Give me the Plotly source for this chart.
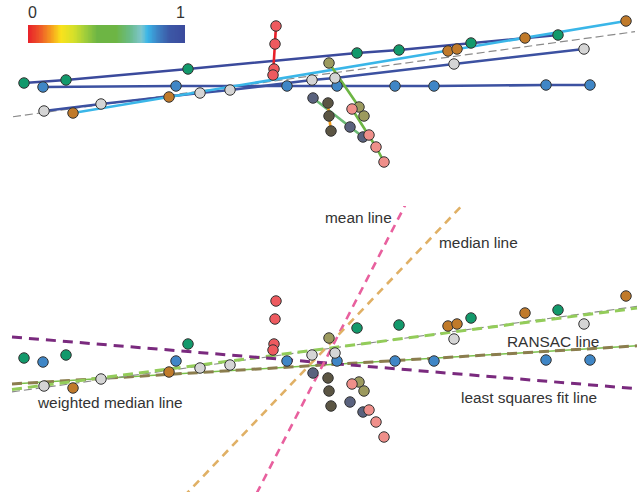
import numpy as np
import plotly.graph_objects as go
from plotly.colors import sample_colorscale

# ---------------- data (panel units) ----------------
green_x = [24, 66, 188, 357, 399, 471, 558]
green_y = [117, 120, 131, 147, 150, 157, 165]
blue_x = [43, 176, 287, 337, 395, 434, 546, 590]
blue_y = [113, 114, 114, 114, 114, 114, 115, 115]
gray_x = [44, 101, 200, 230, 312, 335, 454, 584]
gray_y = [89, 96, 107, 110, 120, 122, 136, 151]
orange_x = [73, 169, 448, 457, 525, 626]
orange_y = [87, 103, 149, 151, 162, 179]
red_x = [276, 275, 274, 273]
red_y = [174, 156, 131, 125]
slate_x = [313, 350, 363]
slate_y = [102, 73, 63]
dark_x = [328, 329, 331]
dark_y = [97, 84, 69]
olive_x = [329, 359, 364]
olive_y = [137, 93, 84]
salmon_x = [352, 369, 376, 384]
salmon_y = [91, 65, 53, 38]

# consistency weight of each group (0..1) -> colour of its connecting line
group_weights = {"green": 1.0, "blue": 0.95, "gray": 0.95, "orange": 0.76,
                 "red": 0.0, "slate": 0.62, "dark": 0.15, "olive": 0.5, "salmon": 0.5}

# fitted lines: y = slope * x + intercept
fit_names = ["true line", "weighted median line", "RANSAC line",
             "least squares fit line", "mean line", "median line"]
fit_slopes = [0.1367, 0.1302, 0.061, -0.0828, 1.94, 1.046]
fit_intercepts = [81.5, 84.0, 90.3, 139.0, -516.2, -213.8]

colorbar_labels = ["0", "1"]

# ---------------- styles ----------------
W, H = 641, 492
FONT = "Liberation Sans, Arial, sans-serif"
TXT = "#333333"

cscale = [
    [0.0, 'rgb(232,32,42)'], [0.08, 'rgb(238,90,40)'], [0.15, 'rgb(246,160,30)'],
    [0.21, 'rgb(249,226,28)'], [0.29, 'rgb(214,224,42)'], [0.37, 'rgb(156,204,60)'],
    [0.44, 'rgb(109,181,68)'], [0.56, 'rgb(109,181,68)'], [0.65, 'rgb(105,187,138)'],
    [0.72, 'rgb(127,198,204)'], [0.76, 'rgb(58,182,232)'], [0.83, 'rgb(61,127,194)'],
    [0.9, 'rgb(60,88,166)'], [1.0, 'rgb(59,74,156)']
]

marker_colors = {"green": "#12996b", "blue": "#3f86c6", "gray": "#d5d5d5",
                 "orange": "#c07a2a", "red": "#ee5a5f", "slate": "#5a627e",
                 "dark": "#5b5543", "olive": "#9c9a5e", "salmon": "#ef8f8a"}

groups = {
    "green": (green_x, green_y), "blue": (blue_x, blue_y), "gray": (gray_x, gray_y),
    "orange": (orange_x, orange_y), "red": (red_x, red_y), "slate": (slate_x, slate_y),
    "dark": (dark_x, dark_y), "olive": (olive_x, olive_y), "salmon": (salmon_x, salmon_y),
}

MSIZE = 10.5

fig = go.Figure()

# ---------------- top panel ----------------
x_seg = np.array([13, 635])
fig.add_trace(go.Scatter(x=x_seg, y=fit_slopes[0] * x_seg + fit_intercepts[0],
                         mode="lines", line=dict(color="#8a8a8a", width=1.2, dash="8px,4px"),
                         xaxis="x", yaxis="y", hoverinfo="skip"))

for name, (xs, ys) in groups.items():
    col = sample_colorscale(cscale, [group_weights[name]])[0]
    fig.add_trace(go.Scatter(x=xs, y=ys, mode="lines", line=dict(color=col, width=2.6),
                             xaxis="x", yaxis="y", hoverinfo="skip"))
for name, (xs, ys) in groups.items():
    fig.add_trace(go.Scatter(x=xs, y=ys, mode="markers",
                             marker=dict(size=MSIZE, color=marker_colors[name],
                                         line=dict(color="#333333", width=1)),
                             xaxis="x", yaxis="y", name=name))

# ---------------- bottom panel ----------------
x_full = np.array([12, 637])
x_wide = np.array([0, 641])
line_styles = {
    "true line": dict(color="#8a8a8a", width=1.2, dash="8px,4px"),
    "weighted median line": dict(color="#93cc5a", width=3, dash="10px,6px"),
    "least squares fit line": dict(color="#7a2a7e", width=3, dash="10px,7px"),
    "mean line": dict(color="#e8609e", width=2.6, dash="8px,6px"),
    "median line": dict(color="#e0b065", width=2.6, dash="8px,6px"),
}
# RANSAC drawn as thin solid green with olive dashes on top
ransac_i = fit_names.index("RANSAC line")
fig.add_trace(go.Scatter(x=x_full, y=fit_slopes[ransac_i] * x_full + fit_intercepts[ransac_i],
                         mode="lines", line=dict(color="#7ac04a", width=1.5),
                         xaxis="x", yaxis="y2", hoverinfo="skip"))
fig.add_trace(go.Scatter(x=x_full, y=fit_slopes[ransac_i] * x_full + fit_intercepts[ransac_i],
                         mode="lines", line=dict(color="#8b7d4e", width=3, dash="10px,6px"),
                         xaxis="x", yaxis="y2", hoverinfo="skip"))
for i, nm in enumerate(fit_names):
    if nm == "RANSAC line":
        continue
    xx = x_wide if nm in ("mean line", "median line") else x_full
    fig.add_trace(go.Scatter(x=xx, y=fit_slopes[i] * xx + fit_intercepts[i], mode="lines",
                             line=line_styles[nm], xaxis="x", yaxis="y2", hoverinfo="skip"))

for name, (xs, ys) in groups.items():
    fig.add_trace(go.Scatter(x=xs, y=ys, mode="markers",
                             marker=dict(size=MSIZE, color=marker_colors[name],
                                         line=dict(color="#333333", width=1)),
                             xaxis="x", yaxis="y2", name=name))

# ---------------- colour bar (top-left) ----------------
grad = np.linspace(0, 1, 200)
fig.add_trace(go.Heatmap(z=[grad], x=grad, y=[0], colorscale=cscale, zmin=0, zmax=1,
                         showscale=False, xaxis="x3", yaxis="y3", hoverinfo="skip"))

# ---------------- annotations ----------------
label_pos = {"mean line": (358, 258), "median line": (478, 233), "RANSAC line": (553, 134),
             "least squares fit line": (529, 78), "weighted median line": (110, 73)}
annotations = []
for nm, (ax_, ay_) in label_pos.items():
    annotations.append(dict(x=ax_, y=ay_, xref="x", yref="y2", text=nm, showarrow=False,
                            xanchor="center", yanchor="middle",
                            font=dict(family=FONT, size=15.4, color=TXT)))
for lbl, px in zip(colorbar_labels, [32, 180]):
    annotations.append(dict(x=px / W, y=1 - 13 / H, xref="paper", yref="paper", text=lbl,
                            showarrow=False, xanchor="center", yanchor="middle",
                            font=dict(family=FONT, size=16, color=TXT)))

hidden = dict(visible=False, showgrid=False, zeroline=False, fixedrange=True)
fig.update_layout(
    width=W, height=H, margin=dict(l=0, r=0, t=0, b=0),
    paper_bgcolor="white", plot_bgcolor="white", showlegend=False,
    xaxis=dict(domain=[0, 1], range=[0, W], **hidden),
    yaxis=dict(domain=[1 - 200 / H, 1], range=[0, 200], anchor="x", **hidden),
    yaxis2=dict(domain=[0, (H - 206) / H], range=[-17, 269], anchor="x", **hidden),
    xaxis3=dict(domain=[28 / W, 185 / W], range=[0, 1], anchor="y3", **hidden),
    yaxis3=dict(domain=[1 - 43 / H, 1 - 25 / H], range=[-0.5, 0.5], anchor="x3", **hidden),
    annotations=annotations,
)

fig.write_html("out.html", config={"displayModeBar": False},
               post_script="document.body.style.margin='0px';document.body.style.overflow='hidden';")
